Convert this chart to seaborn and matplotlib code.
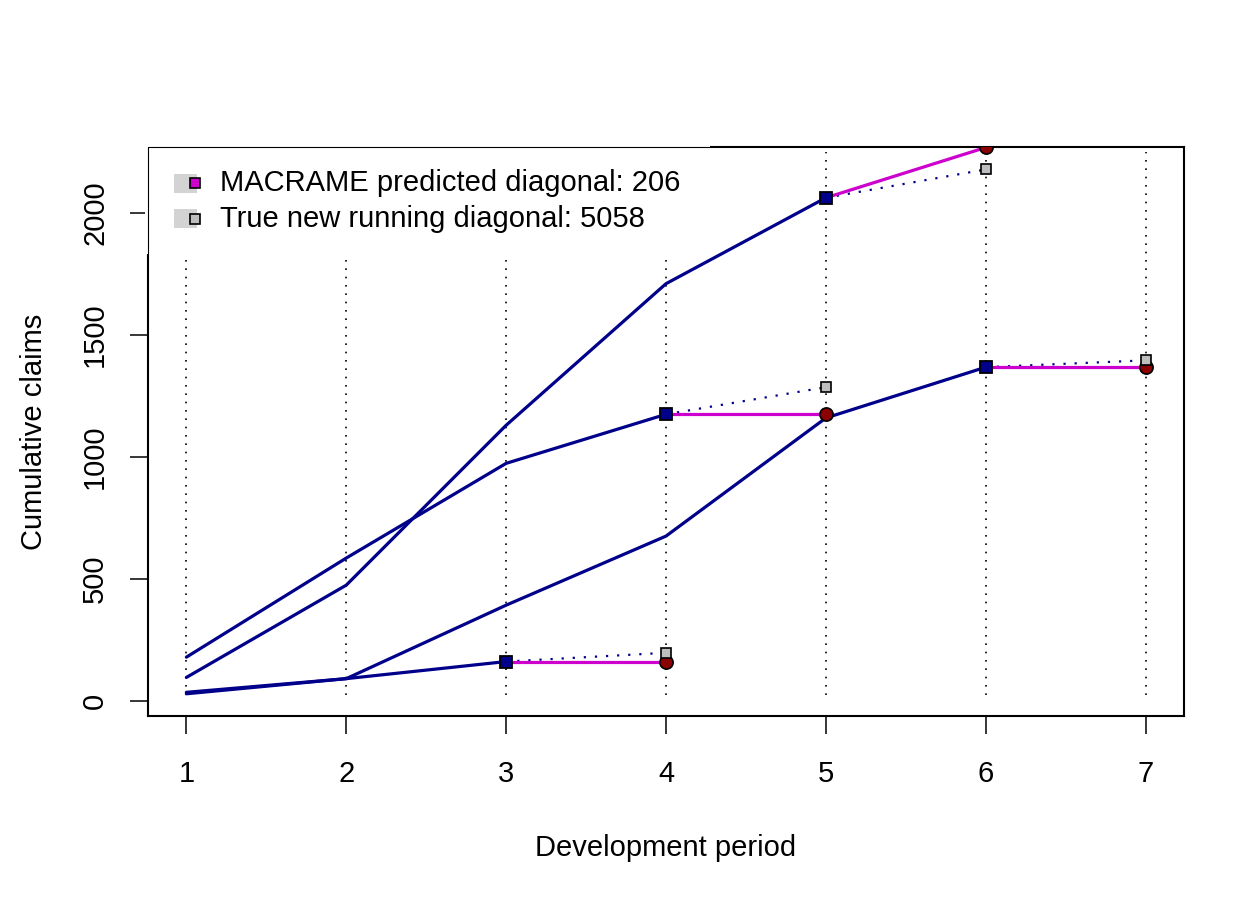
import matplotlib
matplotlib.use("Agg")
import matplotlib.pyplot as plt
import pandas as pd
import seaborn as sns
from matplotlib.patches import Rectangle

# observed cumulative claims per accident year (development periods 1..n)
obs_a = [180, 586, 974, 1175]
obs_b = [97, 475, 1130, 1710, 2062]
obs_c = [30, 92, 393, 676, 1160, 1368]
obs_d = [36, 92, 162]

# next diagonal: MACRAME prediction vs true value
pred_next = [1175, 2268, 1368, 162]
true_next = [1286, 2178, 1396, 198]

legend_labels = ["MACRAME predicted diagonal: 206", "True new running diagonal: 5058"]

# long table for seaborn
rows = []
for name, vals in zip(["A", "B", "C", "D"], [obs_a, obs_b, obs_c, obs_d]):
    for i, v in enumerate(vals):
        rows.append({"year": name, "period": i + 1, "claims": v})
df = pd.DataFrame(rows)
last = df.groupby("year", sort=True).last().reset_index()
last["pred"] = pred_next
last["true"] = true_next
last["next"] = last["period"] + 1

sns.set_style("white")
plt.rcParams["font.family"] = ["Liberation Sans", "DejaVu Sans"]
plt.rcParams["text.color"] = "black"
plt.rcParams["axes.labelcolor"] = "black"

dark = "#00008B"
mag = "#CD00CD"
fs = 21

fig = plt.figure(figsize=(12.6, 9), dpi=100)
ax = fig.add_axes([148 / 1260, 184 / 900, 1036 / 1260, 569 / 900])

# dotted vertical guides
ax.vlines(range(1, 8), df["claims"].min() - 5, max(pred_next) - 20, colors="black",
          linestyles=(0, (1, 4)), linewidth=1.2, zorder=1)

sns.lineplot(data=df, x="period", y="claims", units="year", estimator=None,
             color=dark, linewidth=2.3, ax=ax, zorder=2, legend=False)

for _, r in last.iterrows():
    ax.plot([r["period"], r["next"]], [r["claims"], r["true"]], color=dark,
            linestyle=(0, (1, 4)), linewidth=1.6, zorder=2.1)
    ax.plot([r["period"], r["next"]], [r["claims"], r["pred"]], color=mag,
            linewidth=2.3, zorder=2.2)

ax.plot(last["next"], last["pred"], "o", ms=9.5, mfc="#8B0000", mec="black", mew=1.2,
        linestyle="none", zorder=3)
ax.plot(last["next"], last["true"], "s", ms=7, mfc="#BEBEBE", mec="black", mew=1.2,
        linestyle="none", zorder=3.5)
ax.plot(last["period"], last["claims"], "s", ms=9, mfc=dark, mec="black", mew=1.3,
        linestyle="none", zorder=4)

ax.set_xlim(0.76, 7.24)
ax.set_ylim(-61, 2270)
ax.set_xticks(range(1, 8))
ax.set_yticks([0, 500, 1000, 1500, 2000])
ax.tick_params(axis="both", direction="out", length=13, width=1.1, labelsize=fs,
               colors="black", bottom=True, left=True)
ax.tick_params(axis="x", pad=19)
ax.tick_params(axis="y", pad=15)
plt.setp(ax.get_yticklabels(), rotation=90, va="center")
for s in ax.spines.values():
    s.set_linewidth(1.5)
    s.set_color("black")
ax.set_xlabel("Development period", fontsize=fs, labelpad=33)
ax.set_ylabel("Cumulative claims", fontsize=fs, labelpad=24)

# legend box (drawn by hand to match the base-R look)
ax.add_patch(Rectangle((-0.003, 0.812), 0.5455, 0.192, transform=ax.transAxes,
                       facecolor="white", edgecolor="none", zorder=5, clip_on=False))
ax.plot([0, 0.5425], [1, 1], color="black", lw=0.8, transform=ax.transAxes,
        zorder=5.1, clip_on=False)
ax.plot([0, 0], [0.812, 1], color="black", lw=0.8, transform=ax.transAxes,
        zorder=5.1, clip_on=False)
for ypos, fc, lab in zip([0.936, 0.8743], [mag, "#BEBEBE"], legend_labels):
    ax.add_patch(Rectangle((0.0254, ypos - 0.016), 0.0216, 0.032, transform=ax.transAxes,
                           facecolor="#D3D3D3", edgecolor="none", zorder=5.2))
    ax.plot([0.0458], [ypos], "s", ms=7.2, mfc=fc, mec="black", mew=1.2,
            transform=ax.transAxes, zorder=5.3, clip_on=False)
    ax.text(0.0695, ypos, lab, transform=ax.transAxes, fontsize=fs, va="center",
            ha="left", zorder=5.4)

fig.savefig("out.png", dpi=100)
